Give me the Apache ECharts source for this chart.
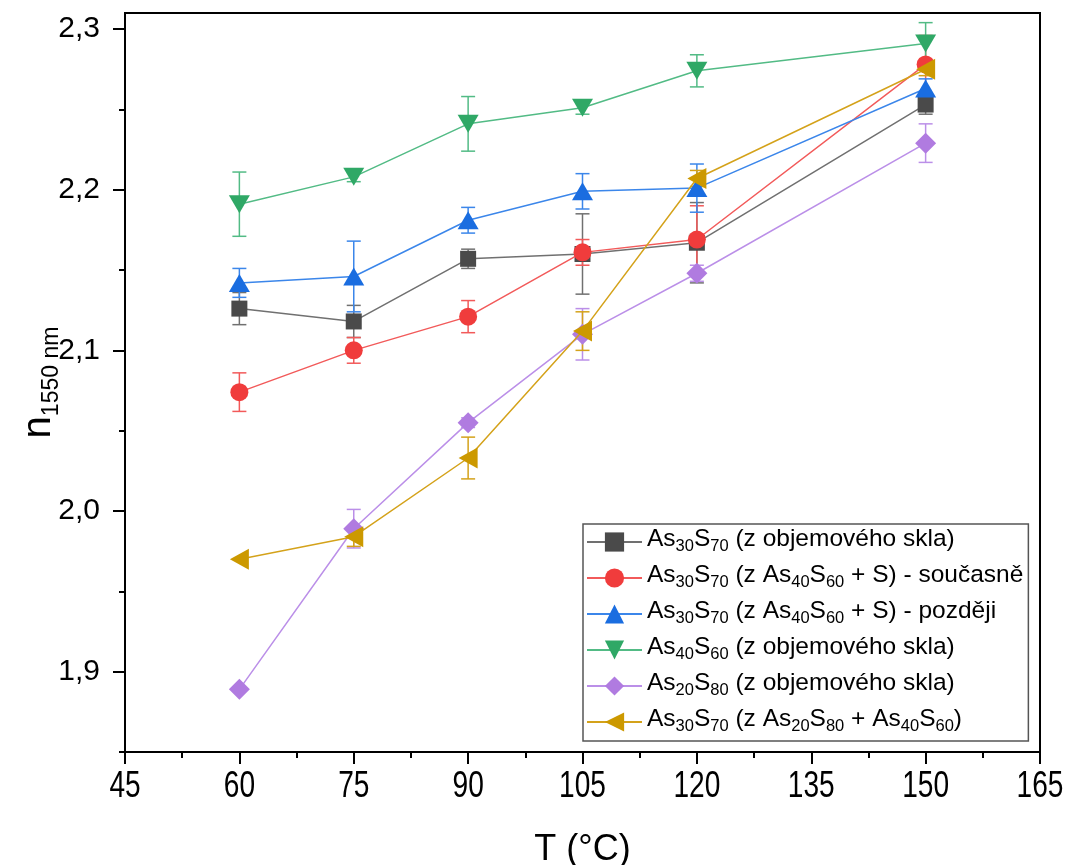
<!DOCTYPE html>
<html>
<head>
<meta charset="utf-8">
<title>n1550 vs T</title>
<script src="https://cdn.jsdelivr.net/npm/echarts@6/dist/echarts.min.js"></script>
<style>
    html, body { margin: 0; padding: 0; background: #fff; }
    #chart { width: 1074px; height: 865px; }
</style>
</head>
<body>
<div id="chart"></div>
<script>
    // teploty (°C)
    var temps = [60, 75, 90, 105, 120, 150];

    var names = [
        'As30S70 (z objemového skla)',
        'As30S70 (z As40S60 + S) - současně',
        'As30S70 (z As40S60 + S) - později',
        'As40S60 (z objemového skla)',
        'As20S80 (z objemového skla)',
        'As30S70 (z As20S80 + As40S60)'
    ];

    // index lomu n(1550 nm) a chyby
    var as30s70Bulk = [2.126, 2.118, 2.157, 2.160, 2.167, 2.253];
    var as30s70BulkErr = [0.010, 0.010, 0.006, 0.025, 0.025, 0.006];

    var as30s70Simul = [2.074, 2.100, 2.121, 2.161, 2.169, 2.278];
    var as30s70SimulErr = [0.012, 0.008, 0.010, 0.008, 0.021, 0.018];

    var as30s70Later = [2.142, 2.146, 2.181, 2.199, 2.201, 2.263];
    var as30s70LaterErr = [0.009, 0.022, 0.008, 0.011, 0.015, 0.006];

    var as40s60Bulk = [2.191, 2.208, 2.241, 2.251, 2.274, 2.291];
    var as40s60BulkErr = [0.020, 0.003, 0.017, 0.004, 0.010, 0.013];

    var as20s80Bulk = [1.889, 1.989, 2.055, 2.110, 2.148, 2.229];
    var as20s80BulkErr = [0, 0.012, 0.003, 0.016, 0.005, 0.012];

    var as30s70Mix = [1.970, 1.984, 2.033, 2.112, 2.207, 2.275];
    var as30s70MixErr = [0, 0.006, 0.013, 0.012, 0.005, 0.004];

    var xTicks = [45, 60, 75, 90, 105, 120, 135, 150, 165];
    var yMajor = [1.9, 2.0, 2.1, 2.2, 2.3];
    var yMinor = [1.85, 1.95, 2.05, 2.15, 2.25];

    var values = [as30s70Bulk, as30s70Simul, as30s70Later, as40s60Bulk, as20s80Bulk, as30s70Mix];
    var errors = [as30s70BulkErr, as30s70SimulErr, as30s70LaterErr, as40s60BulkErr, as20s80BulkErr, as30s70MixErr];

    var markColors = ['#4a4a4a', '#f03c3c', '#1a6de0', '#2fa866', '#b07be0', '#cc9900'];
    var lineColors = ['#707070', '#f25a5a', '#3b86ea', '#52bb85', '#bb8fe8', '#d4a21a'];
    var symbols = ['rect', 'circle', 'triangle', 'triangle', 'diamond', 'triangle'];
    var symbolSizes = [[16, 16], [18, 18], [21, 18], [21, 18], [21, 21], [21, 19]];
    var rotations = [0, 0, 0, 180, 0, 90];

    var font = "'Liberation Sans', Arial, sans-serif";

    // cisla za As/S jako dolni index
    function richName(name) {
        return name.split(/(\d+)/).map(function (part, i) {
            if (part === '') return '';
            return i % 2 ? '{s|' + part + '}' : '{n|' + part + '}';
        }).join('');
    }

    function errorRender(color) {
        return function (params, api) {
            var x = api.value(0), y = api.value(1), e = api.value(2);
            if (!e) return;
            var hi = api.coord([x, y + e]);
            var lo = api.coord([x, y - e]);
            var w = 7;
            var st = { stroke: color, lineWidth: 1.5 };
            return {
                type: 'group',
                children: [
                    { type: 'line', shape: { x1: hi[0], y1: hi[1], x2: lo[0], y2: lo[1] }, style: st },
                    { type: 'line', shape: { x1: hi[0] - w, y1: hi[1], x2: hi[0] + w, y2: hi[1] }, style: st },
                    { type: 'line', shape: { x1: lo[0] - w, y1: lo[1], x2: lo[0] + w, y2: lo[1] }, style: st }
                ]
            };
        };
    }

    var series = [];
    // chybove useky
    values.forEach(function (vals, k) {
        series.push({
            name: 'err' + k,
            type: 'custom',
            z: 1,
            renderItem: errorRender(lineColors[k]),
            encode: { x: 0, y: 1 },
            data: temps.map(function (t, i) { return [t, vals[i], errors[k][i]]; })
        });
    });
    // body a spojnice
    values.forEach(function (vals, k) {
        series.push({
            name: names[k],
            type: 'line',
            z: 2 + k,
            symbol: symbols[k],
            symbolSize: symbolSizes[k],
            symbolRotate: rotations[k],
            showAllSymbol: true,
            itemStyle: { color: markColors[k], opacity: 1 },
            lineStyle: { color: lineColors[k], width: 1.5 },
            data: temps.map(function (t, i) { return [t, vals[i]]; })
        });
    });

    var myChart = echarts.init(document.getElementById('chart'), null, { renderer: 'canvas' });
    myChart.setOption({
        animation: false,
        backgroundColor: '#fff',
        grid: {
            left: 125,
            right: 34,
            top: 13,
            bottom: 113,
            outerBoundsMode: 'none',
            containLabel: false,
            show: true,
            borderColor: '#000',
            borderWidth: 2,
            backgroundColor: 'transparent'
        },
        legend: {
            data: names,
            orient: 'vertical',
            left: 583,
            top: 524,
            itemWidth: 55,
            itemHeight: 24,
            itemGap: 8,
            padding: [3, 5, 6, 3],
            borderColor: '#555',
            borderWidth: 1.5,
            backgroundColor: '#fff',
            formatter: richName,
            textStyle: {
                color: '#000',
                fontFamily: font,
                fontSize: 24.5,
                rich: {
                    n: { fontFamily: font, fontSize: 24.5, color: '#000', verticalAlign: 'bottom', padding: [0, 0, 3, 0], lineHeight: 26 },
                    s: { fontFamily: font, fontSize: 16.5, color: '#000', verticalAlign: 'bottom', lineHeight: 26 }
                }
            }
        },
        xAxis: {
            type: 'value',
            min: 45,
            max: 165,
            interval: 15,
            name: 'T (°C)',
            nameLocation: 'middle',
            nameGap: 80,
            nameMoveOverlap: false,
            nameTextStyle: { fontFamily: font, fontSize: 36, color: '#000' },
            axisLine: { show: true, lineStyle: { color: '#000', width: 2 } },
            axisTick: { show: true, inside: false, length: 12, lineStyle: { color: '#000', width: 2 } },
            minorTick: { show: true, splitNumber: 2, length: 6, lineStyle: { color: '#000', width: 2 } },
            // popisky se kresli zuzene pres graphic nize
            axisLabel: { show: false },
            splitLine: { show: false }
        },
        yAxis: [
            {
                type: 'value',
                min: 1.85,
                max: 2.31,
                name: '{a|n}{b|1550 nm}',
                nameLocation: 'middle',
                nameRotate: 90,
                nameGap: 62,
                nameMoveOverlap: false,
                nameTextStyle: {
                    color: '#000',
                    rich: {
                        a: { fontFamily: font, fontSize: 40, color: '#000', verticalAlign: 'bottom', padding: [0, 0, 4, 0] },
                        b: { fontFamily: font, fontSize: 23, color: '#000', verticalAlign: 'bottom' }
                    }
                },
                axisLine: { show: true, lineStyle: { color: '#000', width: 2 } },
                axisTick: { show: true, inside: false, length: 12, customValues: yMajor, lineStyle: { color: '#000', width: 2 } },
                axisLabel: {
                    margin: 25,
                    fontFamily: font,
                    fontSize: 30,
                    color: '#000',
                    customValues: yMajor,
                    formatter: function (v) { return v.toFixed(1).replace('.', ','); }
                },
                splitLine: { show: false }
            },
            {
                // vedlejsi rysky
                type: 'value',
                min: 1.85,
                max: 2.31,
                position: 'left',
                axisLine: { show: false },
                axisTick: { show: true, inside: false, length: 6, customValues: yMinor, lineStyle: { color: '#000', width: 2 } },
                axisLabel: { show: false },
                splitLine: { show: false }
            }
        ],
        series: series
    });

    // popisky osy x - uzsi pismo (zuzeni pres scaleX)
    var baseY = myChart.convertToPixel({ yAxisIndex: 0 }, 1.85);
    myChart.setOption({
        graphic: xTicks.map(function (t) {
            return {
                type: 'text',
                x: myChart.convertToPixel({ xAxisIndex: 0 }, t),
                y: baseY + 17,
                scaleX: 0.78,
                style: {
                    text: String(t),
                    fontFamily: font,
                    fontSize: 36,
                    fill: '#000',
                    align: 'center',
                    verticalAlign: 'top'
                }
            };
        })
    });
</script>
</body>
</html>
